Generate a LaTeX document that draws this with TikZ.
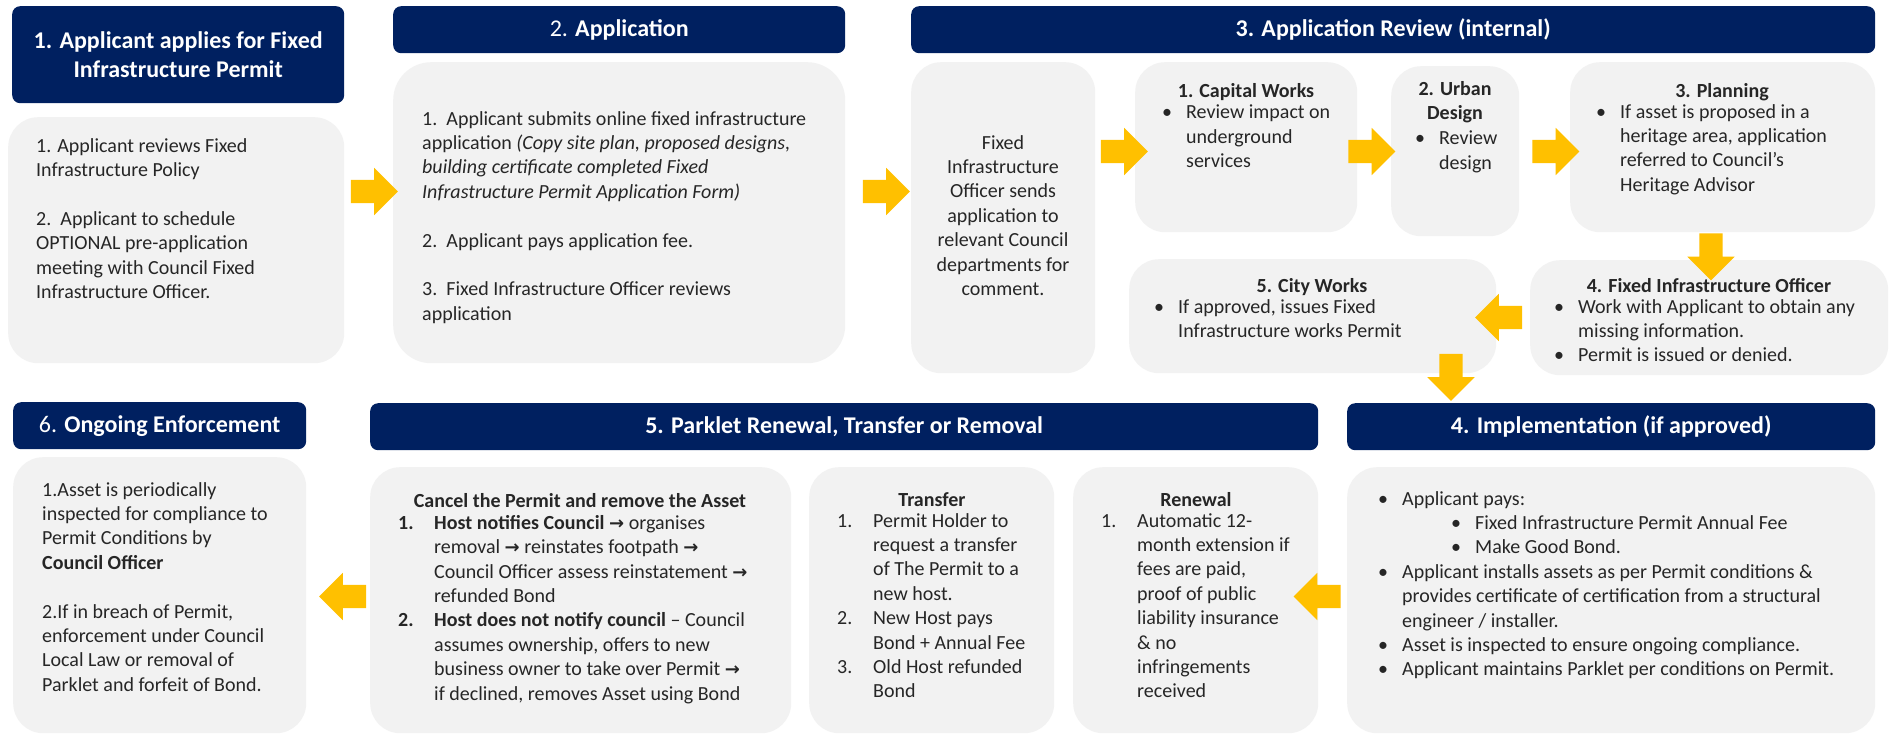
\documentclass[tikz,border=0pt]{standalone}
\usepackage{fontspec}
\setmainfont{Carlito}
\newfontfamily\arrfont{DejaVu Sans}
\usetikzlibrary{shapes.arrows}
\definecolor{navy}{RGB}{0,32,96}
\definecolor{panelgray}{HTML}{F2F2F2}
\definecolor{gold}{HTML}{FFC000}
\definecolor{txtcol}{HTML}{262626}
\newcommand\bodyfont{\fontsize{20}{24.4}\selectfont}
\newcommand\hdrfont{\fontsize{24}{29}\selectfont}
\newcommand\pbul{\makebox[24pt][l]{•}}
\newcommand\pind{\hspace*{24pt}}
\newcommand\pnum[1]{\makebox[36pt][l]{#1}}
\newcommand\pnind{\hspace*{36pt}}
\newcommand\parr{{\arrfont\bfseries\fontsize{18}{24.4}\selectfont →}}
\tikzset{
  hdr/.style={fill=navy, rounded corners=8pt, text=white, font=\hdrfont, align=center, inner sep=0pt, anchor=north west},
  panel/.style={fill=panelgray, rounded corners=30pt, inner sep=0pt, anchor=north west},
  txt/.style={text=txtcol, font=\bodyfont, align=left, inner sep=0pt, anchor=north west, execute at begin node={\strut}},
  ctxt/.style={txt, align=center, anchor=north},
  ttl/.style={txt, font=\bodyfont\bfseries, align=center, anchor=north},
  blockarrow/.style={single arrow, fill=gold, text height=23pt, text depth=0pt, text width=0pt, minimum height=47pt, single arrow head extend=12pt, single arrow tip angle=90, inner sep=0pt}
}
\begin{document}
\begin{tikzpicture}[x=1pt, y=-1pt]
\fill[white] (0,0) rectangle (1892,734);
\useasboundingbox (0,0) rectangle (1892,734);

% ---------- headers
\node[hdr, minimum width=332pt, minimum height=97pt, font=\hdrfont\bfseries] (h1) at (12,6) {1. Applicant applies for Fixed\\Infrastructure Permit};
\node[hdr, minimum width=452pt, minimum height=47pt] (h2) at (393,6) {2. \textbf{Application}};
\node[hdr, minimum width=964pt, minimum height=47pt, font=\hdrfont\bfseries] (h3) at (911,6) {3. Application Review (internal)};
\node[hdr, minimum width=293pt, minimum height=47pt] (h6) at (13,402) {6. \textbf{Ongoing Enforcement}};
\node[hdr, minimum width=948pt, minimum height=47pt, font=\hdrfont\bfseries] (h5) at (370,403) {5. Parklet Renewal, Transfer or Removal};
\node[hdr, minimum width=528pt, minimum height=47pt, font=\hdrfont\bfseries] (h4) at (1347,403) {4. Implementation (if approved)};

% ---------- panels
\node[panel, minimum width=336pt, minimum height=246pt] (b1) at (8,117) {};
\node[panel, minimum width=452pt, minimum height=301pt, rounded corners=38pt] (b2) at (393,62) {};
\node[panel, minimum width=184pt, minimum height=311pt] (b3) at (911,62) {};
\node[panel, minimum width=222pt, minimum height=170pt] (cw) at (1135,62) {};
\node[panel, minimum width=128pt, minimum height=170pt] (ud) at (1391,66) {};
\node[panel, minimum width=305pt, minimum height=170pt] (pl) at (1570,62) {};
\node[panel, minimum width=358pt, minimum height=115pt] (fio) at (1530,260) {};
\node[panel, minimum width=367pt, minimum height=114pt] (city) at (1129,259) {};
\node[panel, minimum width=293pt, minimum height=276pt] (b6) at (13,457) {};
\node[panel, minimum width=421pt, minimum height=266pt] (cancel) at (370,467) {};
\node[panel, minimum width=245pt, minimum height=266pt] (transfer) at (809,467) {};
\node[panel, minimum width=245pt, minimum height=266pt] (renewal) at (1073,467) {};
\node[panel, minimum width=528pt, minimum height=266pt] (impl) at (1347,467) {};

% ---------- texts
\node[txt] (t1) at (36,138) {1. Applicant reviews Fixed\\Infrastructure Policy\\[24.4pt]2.~~Applicant to schedule\\OPTIONAL pre-application\\meeting with Council Fixed\\Infrastructure Officer.};
\node[txt] (t2) at (422,111) {1.~~Applicant submits online fixed infrastructure\\application \textit{(Copy site plan, proposed designs,}\\\textit{building certificate completed Fixed}\\\textit{Infrastructure Permit Application Form)}\\[24.4pt]2.~~Applicant pays application fee.\\[24.4pt]3.~~Fixed Infrastructure Officer reviews\\application};
\node[ctxt] (t3) at (1003,135) {Fixed\\Infrastructure\\Officer sends\\application to\\relevant Council\\departments for\\comment.};

\node[ttl] (cwt) at (1246,80) {1. Capital Works};
\node[txt] (cwb) at (1162,105) {\pbul Review impact on\\\pind underground\\\pind services};
\node[ttl] (udt) at (1455,81) {2. Urban\\Design};
\node[txt] (udb) at (1415,131) {\pbul Review\\\pind design};
\node[ttl] (plt) at (1722,80) {3. Planning};
\node[txt] (plb) at (1596,104) {\pbul If asset is proposed in a\\\pind heritage area, application\\\pind referred to Council’s\\\pind Heritage Advisor};
\node[ttl] (fiot) at (1709,275) {4. Fixed Infrastructure Officer};
\node[txt] (fiob) at (1554,299) {\pbul Work with Applicant to obtain any\\\pind missing information.\\\pbul Permit is issued or denied.};
\node[ttl] (cityt) at (1312,275) {5. City Works};
\node[txt] (cityb) at (1154,299) {\pbul If approved, issues Fixed\\\pind Infrastructure works Permit};

\node[txt] (t6) at (42,482) {1.Asset is periodically\\inspected for compliance to\\Permit Conditions by\\\textbf{Council Officer}\\[24.4pt]2.If in breach of Permit,\\enforcement under Council\\Local Law or removal of\\Parklet and forfeit of Bond.};

\node[ttl] (cant) at (580,490) {Cancel the Permit and remove the Asset};
\node[txt] (canb) at (398,515) {\pnum{\textbf{1.}}\textbf{Host notifies Council} \parr{} organises\\\pnind removal \parr{} reinstates footpath \parr\\\pnind Council Officer assess reinstatement \parr\\\pnind refunded Bond\\\pnum{\textbf{2.}}\textbf{Host does not notify council} – Council\\\pnind assumes ownership, offers to new\\\pnind business owner to take over Permit \parr\\\pnind if declined, removes Asset using Bond};

\node[ttl] (trt) at (932,489) {Transfer};
\node[txt] (trb) at (837,513) {\pnum{1.}Permit Holder to\\\pnind request a transfer\\\pnind of The Permit to a\\\pnind new host.\\\pnum{2.}New Host pays\\\pnind Bond + Annual Fee\\\pnum{3.}Old Host refunded\\\pnind Bond};

\node[ttl] (rnt) at (1196,489) {Renewal};
\node[txt] (rnb) at (1101,513) {\pnum{1.}Automatic 12-\\\pnind month extension if\\\pnind fees are paid,\\\pnind proof of public\\\pnind liability insurance\\\pnind \& no\\\pnind infringements\\\pnind received};

\node[txt] (imb) at (1378,491) {\pbul Applicant pays:\\\hspace*{73pt}\pbul Fixed Infrastructure Permit Annual Fee\\\hspace*{73pt}\pbul Make Good Bond.\\\pbul Applicant installs assets as per Permit conditions \&\\\pind provides certificate of certification from a structural\\\pind engineer / installer.\\\pbul Asset is inspected to ensure ongoing compliance.\\\pbul Applicant maintains Parklet per conditions on Permit.};

% ---------- block arrows
\node[blockarrow] (a1) at (368.5,191.5) {};
\node[blockarrow] (a2) at (880.5,191.5) {};
\node[blockarrow] (a3) at (1118.5,151.5) {};
\node[blockarrow] (a4) at (1366,151.5) {};
\node[blockarrow] (a5) at (1550,151.5) {};
\node[blockarrow, rotate=-90] (a6) at (1711,251) {};
\node[blockarrow, rotate=180] (a7) at (1504.5,317.5) {};
\node[blockarrow, rotate=-90] (a8) at (1451,371.5) {};
\node[blockarrow, rotate=180] (a9) at (1323,596.5) {};
\node[blockarrow, rotate=180] (a10) at (348.5,596.5) {};
\end{tikzpicture}
\end{document}
